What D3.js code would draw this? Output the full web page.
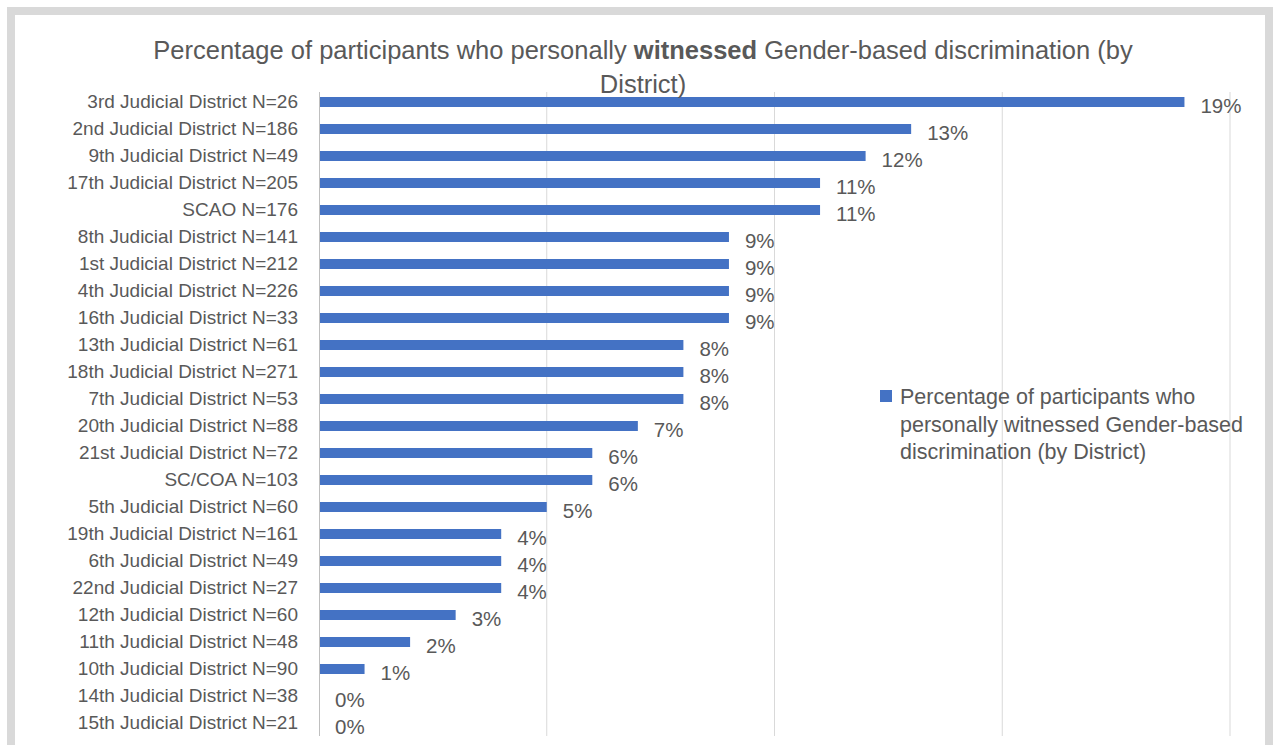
<!DOCTYPE html>
<html>
<head>
<meta charset="utf-8">
<script src="https://cdn.jsdelivr.net/npm/d3@7"></script>
<style>
  body { margin: 0; background: #fff; }
  svg { display: block; font-family: "Liberation Sans", Arial, sans-serif; }
</style>
</head>
<body>
<svg width="1275" height="745"></svg>
<script>
  // categories, top to bottom
  var districts = [
    "3rd Judicial District N=26", "2nd Judicial District N=186", "9th Judicial District N=49",
    "17th Judicial District N=205", "SCAO N=176", "8th Judicial District N=141",
    "1st Judicial District N=212", "4th Judicial District N=226", "16th Judicial District N=33",
    "13th Judicial District N=61", "18th Judicial District N=271", "7th Judicial District N=53",
    "20th Judicial District N=88", "21st Judicial District N=72", "SC/COA N=103",
    "5th Judicial District N=60", "19th Judicial District N=161", "6th Judicial District N=49",
    "22nd Judicial District N=27", "12th Judicial District N=60", "11th Judicial District N=48",
    "10th Judicial District N=90", "14th Judicial District N=38", "15th Judicial District N=21"
  ];
  var witnessed = [0.19, 0.13, 0.12, 0.11, 0.11, 0.09, 0.09, 0.09, 0.09, 0.08, 0.08, 0.08,
                   0.07, 0.06, 0.06, 0.05, 0.04, 0.04, 0.04, 0.03, 0.02, 0.01, 0, 0];
  var gridTicks = [0, 0.05, 0.10, 0.15, 0.20];
  var legendLines = ["Percentage of participants who", "personally witnessed Gender-based", "discrimination (by District)"];

  var svg = d3.select("svg");
  var textColor = "#595959";

  // outer frame
  svg.append("rect")
    .attr("x", 11).attr("y", 11)
    .attr("width", 1258).attr("height", 740)
    .attr("fill", "#fff")
    .attr("stroke", "#d9d9d9")
    .attr("stroke-width", 8);

  var x = d3.scaleLinear().domain([0, 0.20]).range([319, 1230]);
  var y = d3.scaleBand().domain(districts).range([88.5, 736.5]).paddingInner(0.63).paddingOuter(0.315);

  // gridlines
  svg.append("g").selectAll("line")
    .data(gridTicks.slice(1))
    .enter().append("line")
    .attr("x1", function(d) { return x(d); })
    .attr("x2", function(d) { return x(d); })
    .attr("y1", 92).attr("y2", 736)
    .attr("stroke", "#d9d9d9")
    .attr("stroke-width", 1);

  // bars
  svg.append("g").selectAll("rect")
    .data(witnessed)
    .enter().append("rect")
    .attr("x", x(0))
    .attr("y", function(d, i) { return y(districts[i]); })
    .attr("width", function(d) { return x(d) - x(0); })
    .attr("height", y.bandwidth())
    .attr("fill", "#4472c4");

  // category axis
  var yAxis = svg.append("g")
    .attr("transform", "translate(" + x(0) + ",0)")
    .call(d3.axisLeft(y).tickSize(0).tickPadding(21));
  yAxis.select(".domain").attr("stroke", "#bfbfbf").attr("d", "M0.5,92V736");
  yAxis.selectAll("text")
    .attr("fill", textColor)
    .style("font-size", "19px")
    .style("font-family", "Liberation Sans, Arial, sans-serif");

  // value labels
  svg.append("g").selectAll("text")
    .data(witnessed)
    .enter().append("text")
    .attr("x", function(d) { return x(d) + 16; })
    .attr("y", function(d, i) { return y(districts[i]) + y.bandwidth() / 2; })
    .attr("dy", "0.55em")
    .attr("fill", textColor)
    .style("font-size", "20.5px")
    .text(function(d) { return Math.round(d * 100) + "%"; });

  // title
  var title = svg.append("text")
    .attr("x", 643).attr("y", 59)
    .attr("text-anchor", "middle")
    .attr("fill", textColor)
    .style("font-size", "25.5px");
  title.append("tspan").text("Percentage of participants who personally ");
  title.append("tspan").style("font-weight", "bold").text("witnessed");
  title.append("tspan").text(" Gender-based discrimination (by");
  svg.append("text")
    .attr("x", 643).attr("y", 93)
    .attr("text-anchor", "middle")
    .attr("fill", textColor)
    .style("font-size", "25.5px")
    .text("District)");

  // legend
  var legend = svg.append("g");
  legend.append("rect")
    .attr("x", 880).attr("y", 390)
    .attr("width", 12).attr("height", 12)
    .attr("fill", "#4472c4");
  legend.selectAll("text")
    .data(legendLines)
    .enter().append("text")
    .attr("x", 900)
    .attr("y", function(d, i) { return 404 + i * 27.5; })
    .attr("fill", textColor)
    .style("font-size", "21.5px")
    .text(function(d) { return d; });
</script>
</body>
</html>
